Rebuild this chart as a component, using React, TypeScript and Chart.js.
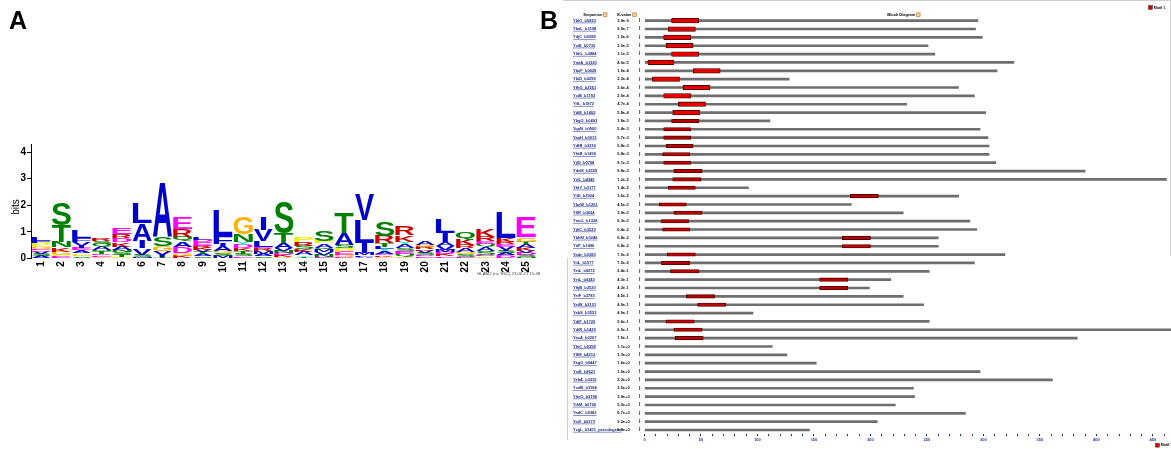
import React, { useEffect, useRef } from "react";
import { Chart, registerables } from "chart.js";

Chart.register(...registerables);

const FONT = '"Liberation Sans", Arial, Helvetica, sans-serif';

// ---------- Panel A: sequence logo ----------
const logoPositions = ["1","2","3","4","5","6","7","8","9","10","11","12","13","14","15","16","17","18","19","20","21","22","23","24","25"];
const bitTicks = [0, 1, 2, 3, 4];
// letters bottom -> top with their height in bits
const logoColumns: [string, number][][] = [
  [["A",0.1],["S",0.07],["V",0.07],["D",0.06],["E",0.06],["G",0.1],["P",0.13],["F",0.08],["L",0.12]],
  [["E",0.04],["D",0.04],["P",0.05],["G",0.12],["K",0.16],["N",0.22],["T",0.63],["S",0.82]],
  [["S",0.08],["G",0.06],["P",0.06],["A",0.1],["E",0.07],["I",0.1],["V",0.16],["F",0.14],["L",0.3]],
  [["G",0.06],["E",0.06],["D",0.06],["T",0.08],["N",0.06],["A",0.12],["Q",0.1],["S",0.11],["R",0.1]],
  [["P",0.04],["T",0.08],["S",0.1],["N",0.09],["A",0.13],["K",0.16],["D",0.15],["R",0.16],["E",0.26]],
  [["M",0.06],["S",0.07],["V",0.25],["I",0.29],["A",0.65],["L",0.78]],
  [["T",0.06],["I",0.07],["V",0.15],["G",0.19],["S",0.35],["A",2.04]],
  [["K",0.1],["G",0.09],["D",0.23],["A",0.21],["Q",0.19],["R",0.27],["E",0.42]],
  [["S",0.08],["A",0.08],["T",0.07],["V",0.1],["K",0.07],["R",0.08],["E",0.14],["D",0.07],["L",0.09]],
  [["M",0.1],["S",0.08],["G",0.08],["A",0.19],["I",0.1],["F",0.29],["L",0.98]],
  [["E",0.08],["S",0.1],["T",0.1],["K",0.1],["D",0.12],["Y",0.13],["N",0.29],["G",0.65]],
  [["S",0.08],["A",0.1],["M",0.1],["R",0.09],["E",0.05],["L",0.22],["V",0.44],["I",0.47]],
  [["G",0.05],["K",0.08],["D",0.07],["N",0.08],["V",0.1],["A",0.19],["T",0.37],["S",1.21]],
  [["T",0.05],["Y",0.06],["A",0.13],["K",0.1],["S",0.13],["R",0.15],["P",0.2]],
  [["E",0.06],["N",0.08],["V",0.08],["M",0.1],["Q",0.08],["A",0.16],["P",0.1],["S",0.41]],
  [["D",0.06],["G",0.07],["E",0.12],["P",0.12],["S",0.14],["A",0.45],["T",0.8]],
  [["A",0.05],["F",0.06],["M",0.08],["I",0.38],["L",0.88],["V",0.94]],
  [["G",0.06],["K",0.06],["D",0.06],["A",0.08],["Y",0.08],["L",0.1],["T",0.13],["R",0.28],["S",0.53]],
  [["G",0.06],["Q",0.09],["E",0.08],["D",0.06],["S",0.1],["A",0.15],["Y",0.09],["K",0.25],["R",0.31]],
  [["E",0.08],["D",0.06],["S",0.07],["V",0.08],["K",0.06],["R",0.08],["G",0.08],["A",0.12]],
  [["E",0.08],["K",0.08],["D",0.08],["M",0.07],["V",0.16],["A",0.16],["I",0.34],["L",0.54]],
  [["E",0.06],["S",0.1],["G",0.08],["A",0.13],["R",0.13],["K",0.22],["Q",0.28]],
  [["G",0.07],["D",0.06],["S",0.16],["A",0.15],["Q",0.1],["E",0.1],["R",0.17],["K",0.28]],
  [["D",0.12],["A",0.07],["S",0.07],["I",0.06],["V",0.12],["E",0.1],["R",0.09],["K",0.12],["L",0.97]],
  [["N",0.05],["S",0.07],["D",0.07],["V",0.07],["K",0.13],["A",0.16],["T",0.08],["G",0.16],["E",0.78]],
];
const logoCaption = "GLAM2 (no SSC) 23.06.21 15:48";

// ---------- Panel B: MAST block diagram ----------
const seqNames = [
  "YbiO_b0823","YbaL_b3108","YdjC_b0288","YciE_b0735","YhhL_b3884","YmiA_b1320","YbaF_b0629","YbiD_b0299",
  "YfhG_b2561","YciB_b1193","YifL_b1872","YdiE_b1402","YbgO_b0493","YqaN_b0900","YaaH_b0013","YdfB_b3216",
  "YhtB_b1459","YjiD_b0768","YdeM_b3559","YrfL_b4345","YhfY_b3177","YiiD_b3924","YbeW_b1261","YfiR_b3634",
  "YmcL_b1328","YjhC_b3523","YbhM_b0246","YtiP_b1496","Yadz_b0383","YiiL_b1577","YeiL_b0272","YeiL_b0343",
  "YhjB_b3520","YeiF_b3783","YaiW_b2101","YabS_b3553","YdiF_b1720","YdiR_b1429","YacA_b0267","YhiC_b0358",
  "YffM_b4212","YagO_b0447","YciE_b2621","YehA_b3315","YcdB_b3184","YheO_b3198","YihM_b0796","YadC_b0383",
  "YaiV_b0373","YzgL_b3411_pseudogene",
];
const eValues = [
  "3.9e-9","9.9e-7","1.0e-6","3.0e-5","3.1e-5","4.0e-5","1.9e-4","2.3e-4","2.6e-4","2.9e-4",
  "4.7e-4","5.8e-4","1.8e-3","5.4e-3","5.7e-3","5.8e-3","5.8e-3","8.1e-3","9.8e-3","1.2e-2",
  "1.4e-2","3.6e-2","4.5e-2","3.9e-2","6.3e-2","6.4e-2","6.8e-2","6.8e-2","7.0e-2","7.5e-2",
  "2.4e-1","4.3e-1","4.3e-1","4.5e-1","4.9e-1","4.9e-1","5.6e-1","6.5e-1","7.5e-1","1.1e+0",
  "1.3e+0","1.6e+0","1.9e+0","2.2e+0","3.5e+0","3.9e+0","5.2e+0","6.7e+0","9.2e+0","9.8e+0",
];
const seqLengths = [
  295,293,299,251,257,327,312,128,278,292,
  232,302,111,297,304,305,305,311,390,462,
  92,278,183,229,288,294,260,260,319,292,
  252,218,199,229,247,96,252,470,383,113,
  126,152,297,361,238,239,222,284,206,146,
];
const motifStart: (number | null)[] = [
  24,21,17,19,24,3,43,7,34,17,
  30,25,24,17,17,19,16,17,26,25,
  21,182,13,26,15,16,175,175,20,15,
  23,155,155,37,47,null,19,26,27,null,
  null,null,null,null,null,null,null,null,null,null,
];
const motifEnd: (number | null)[] = [
  48,45,41,43,48,26,67,31,58,41,
  54,49,48,41,41,43,40,41,51,50,
  45,207,37,51,39,40,200,200,45,40,
  48,180,180,62,72,null,44,51,52,null,
  null,null,null,null,null,null,null,null,null,null,
];
const axisMax = 466;
const strongThreshold = 1e-3;

const aaColor = (l: string) => {
  if ("ACFILVWM".includes(l)) return "#0000cc";
  if ("NQST".includes(l)) return "#008000";
  if ("DE".includes(l)) return "#ff00ff";
  if ("KR".includes(l)) return "#cc0000";
  if (l === "H") return "#ffb3b3";
  if (l === "G") return "#ffb300";
  if (l === "P") return "#eeee00";
  if (l === "Y") return "#33e6cc";
  return "#000";
};

const logoPlugin = {
  id: "logoLetters",
  afterDatasetsDraw(chart: any) {
    const ctx = chart.ctx;
    chart.data.datasets.forEach((ds: any, di: number) => {
      const meta = chart.getDatasetMeta(di);
      meta.data.forEach((el: any, i: number) => {
        const letter = ds.letters[i];
        const v = ds.data[i];
        if (!letter || !v) return;
        const p = el.getProps(["x", "y", "base", "width"], true);
        const top = Math.min(p.y, p.base);
        const h = Math.abs(p.base - p.y);
        if (h < 0.2) return;
        const w = letter === "I" ? p.width * 0.3 : p.width;
        const left = p.x - w / 2;
        ctx.save();
        ctx.font = `bold 100px ${FONT}`;
        ctx.textAlign = "left";
        ctx.textBaseline = "alphabetic";
        const m = ctx.measureText(letter);
        const gw = m.actualBoundingBoxLeft + m.actualBoundingBoxRight;
        const gh = m.actualBoundingBoxAscent + m.actualBoundingBoxDescent;
        ctx.translate(left, top);
        ctx.scale(w / gw, h / gh);
        ctx.fillStyle = aaColor(letter);
        ctx.fillText(letter, m.actualBoundingBoxLeft, m.actualBoundingBoxAscent);
        ctx.restore();
      });
    });
  },
  afterDraw(chart: any) {
    const ctx = chart.ctx;
    const xs = chart.scales.x;
    ctx.save();
    ctx.fillStyle = "#000";
    ctx.font = `bold 25px ${FONT}`;
    ctx.textBaseline = "alphabetic";
    ctx.textAlign = "left";
    ctx.fillText("A", 9, 29);
    ctx.fillText("B", 540, 29);
    // rotated position labels
    ctx.font = `bold 10px ${FONT}`;
    ctx.textAlign = "right";
    ctx.textBaseline = "middle";
    logoPositions.forEach((lab, i) => {
      ctx.save();
      ctx.translate(xs.getPixelForValue(i), chart.chartArea.bottom + 3);
      ctx.rotate(-Math.PI / 2);
      ctx.fillText(lab, 0, 0);
      ctx.restore();
    });
    // y title
    ctx.save();
    ctx.translate(16, 207);
    ctx.rotate(-Math.PI / 2);
    ctx.font = `10px ${FONT}`;
    ctx.textAlign = "center";
    ctx.textBaseline = "middle";
    ctx.fillText("bits", 0, 0);
    ctx.restore();
    // caption
    ctx.font = `4.3px ${FONT}`;
    ctx.fillStyle = "#444";
    ctx.textAlign = "left";
    ctx.textBaseline = "middle";
    ctx.fillText(logoCaption, 477, 273.5);
    ctx.restore();
  },
};

const blockPlugin = {
  id: "blockExtras",
  afterDraw(chart: any) {
    const ctx = chart.ctx;
    const ys = chart.scales.y;
    ctx.save();
    // borders
    ctx.strokeStyle = "#cfcfcf";
    ctx.lineWidth = 1;
    ctx.beginPath();
    ctx.moveTo(3, 0.5); ctx.lineTo(611, 0.5);
    ctx.moveTo(610.5, 0); ctx.lineTo(610.5, 256);
    ctx.moveTo(7.5, 258); ctx.lineTo(7.5, 440);
    ctx.stroke();
    ctx.textBaseline = "middle";
    ctx.textAlign = "left";
    // underline names
    ctx.font = `bold 4px ${FONT}`;
    ctx.strokeStyle = "#1c2a8c";
    ctx.lineWidth = 0.5;
    seqNames.forEach((n, i) => {
      const y = ys.getPixelForValue(i);
      const w = ctx.measureText(n).width;
      ctx.beginPath();
      ctx.moveTo(13, y + 2.2);
      ctx.lineTo(13 + w, y + 2.2);
      ctx.stroke();
    });
    // e-values & strand marks
    eValues.forEach((e, i) => {
      const y = ys.getPixelForValue(i);
      ctx.font = `bold 4px ${FONT}`;
      ctx.fillStyle = "#111";
      ctx.fillText(e, 57.3, y);
      ctx.font = `bold 5px ${FONT}`;
      ctx.fillStyle = "#1a1a66";
      ctx.fillText("I", 79, y);
    });
    // headers
    ctx.font = `bold 4px ${FONT}`;
    ctx.fillStyle = "#000";
    const hy = 14.7;
    const icon = (x: number) => {
      ctx.fillStyle = "#f3d3a0";
      ctx.fillRect(x, hy - 1.8, 3.6, 3.6);
      ctx.strokeStyle = "#c07828";
      ctx.lineWidth = 0.7;
      ctx.strokeRect(x, hy - 1.8, 3.6, 3.6);
      ctx.fillStyle = "#000";
    };
    ctx.fillText("Sequence", 23.3, hy);
    icon(23.3 + ctx.measureText("Sequence").width + 1.2);
    ctx.fillText("E-value", 57.3, hy);
    icon(57.3 + ctx.measureText("E-value").width + 1.2);
    ctx.fillText("Block Diagram", 327.3, hy);
    icon(327.3 + ctx.measureText("Block Diagram").width + 1.2);
    // legends
    const legend = (x: number, y: number) => {
      ctx.fillStyle = "#cc0000";
      ctx.fillRect(x, y - 1.8, 3.6, 3.6);
      ctx.strokeStyle = "#400000";
      ctx.lineWidth = 0.5;
      ctx.strokeRect(x, y - 1.8, 3.6, 3.6);
      ctx.fillStyle = "#000";
      ctx.font = `bold 3.6px ${FONT}`;
      ctx.fillText("Motif 1", x + 5, y);
    };
    legend(588.7, 7.5);
    legend(595.7, 445.3);
    ctx.restore();
  },
};

export default function App() {
  const refA = useRef<HTMLCanvasElement | null>(null);
  const refB = useRef<HTMLCanvasElement | null>(null);

  useEffect(() => {
    document.body.style.margin = "0";
    const depth = Math.max(...logoColumns.map((c) => c.length));
    const logoSets: any[] = [];
    for (let k = 0; k < depth; k++) {
      logoSets.push({
        label: `level ${k + 1}`,
        data: logoColumns.map((c) => (c[k] ? c[k][1] : 0)),
        letters: logoColumns.map((c) => (c[k] ? c[k][0] : "")),
        backgroundColor: "rgba(0,0,0,0)",
        borderWidth: 0,
        categoryPercentage: 1,
        barPercentage: 0.95,
      });
    }
    const chartA = new Chart(refA.current as HTMLCanvasElement, {
      type: "bar",
      data: { labels: logoPositions, datasets: logoSets },
      plugins: [logoPlugin],
      options: {
        animation: false,
        responsive: false,
        maintainAspectRatio: false,
        layout: { padding: { top: 144, left: 0, right: 23.7, bottom: 150.7 } },
        plugins: { legend: { display: false }, tooltip: { enabled: false } },
        scales: {
          x: {
            stacked: true,
            grid: { display: false },
            border: { display: false },
            ticks: { display: false },
            afterFit: (s: any) => { s.height = 40; },
          },
          y: {
            stacked: true,
            min: 0,
            max: 4.31,
            afterBuildTicks: (s: any) => { s.ticks = bitTicks.map((v) => ({ value: v })); },
            ticks: {
              includeBounds: false,
              padding: 1,
              color: "#000",
              font: { family: FONT, size: 10, weight: "bold" },
            },
            grid: { drawOnChartArea: false, drawTicks: true, tickLength: 4, color: "#000" },
            border: { display: true, color: "#000", width: 1 },
            afterFit: (s: any) => { s.width = 31; },
          },
        },
      } as any,
    });

    const strong = eValues.map((e) => parseFloat(e) < strongThreshold);
    const motifData = motifStart.map((s, i) => (s === null || motifEnd[i] === null ? null : [s, motifEnd[i]]));
    const chartB = new Chart(refB.current as HTMLCanvasElement, {
      type: "bar",
      data: {
        labels: seqNames,
        datasets: [
          {
            label: "Motif 1 (strong)",
            data: motifData.map((d, i) => (strong[i] ? d : null)),
            backgroundColor: "#e60000",
            borderColor: "#2a0000",
            borderWidth: 0.8,
            borderSkipped: false,
            barThickness: 4.6,
            grouped: false,
          },
          {
            label: "Motif 1",
            data: motifData.map((d, i) => (strong[i] ? null : d)),
            backgroundColor: "#b80000",
            borderColor: "#4a0000",
            borderWidth: 0.8,
            borderSkipped: false,
            barThickness: 3.4,
            grouped: false,
          },
          {
            label: "Sequence",
            data: seqLengths,
            backgroundColor: "#6e6e6e",
            borderWidth: 0,
            barThickness: 2,
            grouped: false,
          },
        ] as any,
      },
      plugins: [blockPlugin],
      options: {
        indexAxis: "y",
        animation: false,
        responsive: false,
        maintainAspectRatio: false,
        layout: { padding: { top: 16.5, left: 13, right: 0, bottom: 0 } },
        plugins: { legend: { display: false }, tooltip: { enabled: false } },
        scales: {
          x: {
            type: "linear",
            min: 0,
            max: axisMax,
            ticks: {
              stepSize: 10,
              includeBounds: false,
              autoSkip: false,
              maxRotation: 0,
              padding: 1,
              color: "#223399",
              font: { family: FONT, size: 4, weight: "bold" },
              callback: (v: any) => (Number(v) % 50 === 0 ? String(v) : ""),
            },
            grid: { drawOnChartArea: false, drawTicks: true, tickLength: 2, color: "#223366", lineWidth: 1 },
            border: { display: false },
            afterFit: (s: any) => { s.height = 14.8; },
          },
          y: {
            type: "category",
            ticks: {
              autoSkip: false,
              crossAlign: "far",
              color: "#1c2a8c",
              font: { family: FONT, size: 4, weight: "bold" },
            },
            grid: { display: false },
            border: { display: false },
            afterFit: (s: any) => { s.width = 71.5; },
          },
        },
      } as any,
    });

    return () => {
      chartA.destroy();
      chartB.destroy();
    };
  }, []);

  return (
    <div style={{ position: "relative", width: 1171, height: 449, background: "#fff", overflow: "hidden" }}>
      <canvas ref={refA} width={560} height={449} style={{ position: "absolute", left: 0, top: 0, width: 560, height: 449 }} />
      <canvas ref={refB} width={611} height={449} style={{ position: "absolute", left: 560, top: 0, width: 611, height: 449 }} />
    </div>
  );
}
